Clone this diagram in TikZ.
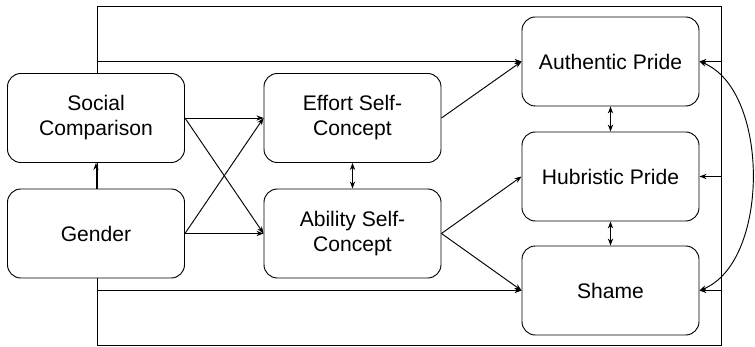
\documentclass[tikz,border=0pt]{standalone}
\usepackage{fontspec}
\setmainfont{Liberation Sans}
\usetikzlibrary{arrows.meta}
\tikzset{
  box/.style={draw,fill=white,rounded corners=0.4cm,minimum width=5.31cm,minimum height=2.67cm,align=center,font=\fontsize{18}{21.3}\selectfont},
  arr/.style={-{Stealth[length=6pt,width=4.5pt]}},
  darr/.style={{Stealth[length=6pt,width=4.5pt]}-{Stealth[length=6pt,width=4.5pt]}}
}
\begin{document}
\begin{tikzpicture}[x=0.03cm,y=-0.03cm,line width=0.8pt]
\useasboundingbox (0,0) rectangle (755,347);
\draw (97,6) rectangle (721,345);
\node[box] (social) at (96,118) {Social\\Comparison};
\node[box] (gender) at (96,233.5) {Gender};
\node[box] (effort) at (352.5,118) {Effort Self-\\Concept};
\node[box] (ability) at (352.5,233.5) {Ability Self-\\Concept};
\node[box] (authentic) at (610.5,61.5) {Authentic Pride};
\node[box] (hubristic) at (610.5,176.5) {Hubristic Pride};
\node[box] (shame) at (610.5,290.5) {Shame};
\coordinate (topleft) at (97,61.5);
\coordinate (botleft) at (97,290.5);
\coordinate (rauth) at (721,61.5);
\coordinate (rhub) at (721,176.5);
\coordinate (rshame) at (721,290.5);
\draw[arr] (gender.north) -- (social.south);
\foreach \a/\b in {social/effort,social/ability,gender/effort,gender/ability,effort/authentic,ability/hubristic,ability/shame}
  \draw[arr] (\a.east) -- (\b.west);
\draw[arr] (topleft) -- (authentic.west);
\draw[arr] (botleft) -- (shame.west);
\foreach \a/\b in {rauth/authentic,rhub/hubristic,rshame/shame}
  \draw[arr] (\a) -- (\b.east);
\draw[darr] (effort.south) -- (ability.north);
\draw[darr] (authentic.south) -- (hubristic.north);
\draw[darr] (hubristic.south) -- (shame.north);
\draw[darr] (authentic.east) .. controls (770,90) and (770,262) .. (shame.east);
\end{tikzpicture}
\end{document}
